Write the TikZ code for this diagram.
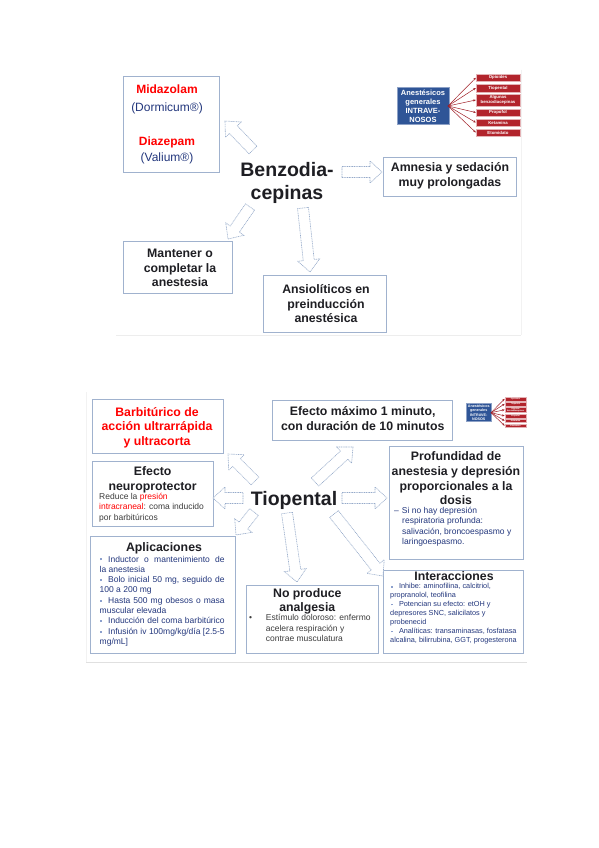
\documentclass[tikz,border=0pt]{standalone}
\usepackage{fontspec}
\setmainfont{Liberation Sans}
\usetikzlibrary{arrows.meta,calc}
\definecolor{boxc}{RGB}{160,178,206}
\definecolor{arrc}{RGB}{150,170,202}
\definecolor{navy}{RGB}{35,55,125}
\definecolor{titc}{RGB}{30,30,35}
\definecolor{redt}{RGB}{255,0,0}
\definecolor{bulc}{RGB}{140,160,205}
\definecolor{grayt}{RGB}{60,60,60}
\definecolor{bluebx}{RGB}{47,85,151}
\definecolor{redbx}{RGB}{178,36,44}
\definecolor{redln}{RGB}{160,30,38}
\newcommand{\bul}{\textcolor{bulc}{\rule[1.6pt]{2pt}{2pt}}}
\newcommand{\sbul}{\textcolor{bulc}{\rule[1.4pt]{1.8pt}{1.8pt}}}
\newcommand{\fs}[2]{\fontsize{#1}{#2}\selectfont}
\newcommand{\blockarrow}[2]{%
  \coordinate (bneck) at ($(#2)!12pt!(#1)$);
  \path[barrow] ($(#1)!5.5pt!90:(#2)$) -- ($(bneck)!5.5pt!90:(#2)$) -- ($(bneck)!11pt!90:(#2)$) -- (#2)
     -- ($(bneck)!11pt!-90:(#2)$) -- ($(bneck)!5.5pt!-90:(#2)$) -- ($(#1)!5.5pt!-90:(#2)$) -- cycle;}
\tikzset{
  ivgroup/.pic={
    \node[fill=bluebx, draw=bluebx!55!white, line width=0.3pt, minimum width=52pt, minimum height=37pt, inner sep=0pt] (-blue) at (26,31.5) {};
    \node[font=\fs{7.5}{9}\bfseries, text=white, align=center, inner sep=0pt] (-bluet) at (26,32) {Anestésicos\\generales\\INTRAVE-\\NOSOS};
    \coordinate (-src) at (51,32);
    \node[rbox, minimum height=7.5pt] (-r1) at (101,3.8) {Opioides};
    \node[rbox, minimum height=8pt] (-r2) at (101,14) {Tiopental};
    \node[rbox, minimum height=12pt] (-r3) at (101,26) {Algunas\\benzodiacepinas};
    \node[rbox, minimum height=7.5pt] (-r4) at (101,38.5) {Propofol};
    \node[rbox, minimum height=7.5pt] (-r5) at (101,48.5) {Ketamina};
    \node[rbox, minimum height=7.5pt] (-r6) at (101,58.5) {Etomidato};
    \foreach \k in {1,...,6} {\draw[redline] (-src) -- (-r\k.west);}
  },
  rbox/.style={fill=redbx, draw=redbx!35!white, line width=0.4pt, minimum width=44pt, inner sep=0pt, font=\fs{4.3}{4.8}\bfseries, text=white, align=center},
  redline/.style={draw=redln, line width=0.5pt, -{Stealth[length=2.6pt,width=2.2pt]}},
  box/.style={draw=boxc, line width=0.9pt, fill=white, inner sep=0pt},
  tit/.style={font=\fs{12.3}{14}\bfseries, text=titc, inner sep=0pt, anchor=base},
  big/.style={font=\fs{19.5}{22}\bfseries, text=titc, inner sep=0pt, anchor=base},
  body/.style={font=\fs{8.5}{10}, inner sep=0pt, anchor=base west},
  ibody/.style={font=\fs{7.3}{9}, text=navy, inner sep=0pt, anchor=base west},
  barrow/.style={draw=arrc, line width=0.6pt, dash pattern=on 1pt off 0.7pt, fill=white, line join=miter},
}
\begin{document}
\begin{tikzpicture}[x=1pt,y=-1pt]
\useasboundingbox (0,0) rectangle (599,848);
\fill[white] (0,0) rectangle (599,848);
% slide edges
\draw[black!7, line width=0.8pt] (116,335) -- (521,335);
\draw[black!5, line width=0.6pt] (521,70) -- (521,335);
\draw[black!12, line width=0.8pt] (86,662) -- (527,662);
\draw[black!5, line width=0.6pt] (86,392) -- (86,662);

% ---------- top slide ----------
\node[box, minimum width=96pt, minimum height=96pt] (midbox) at (171,124.7) {};
\node[box, minimum width=133pt, minimum height=39pt] (amnbox) at (449.5,176.5) {};
\node[box, minimum width=109pt, minimum height=52pt] (manbox) at (177.5,267) {};
\node[box, minimum width=123pt, minimum height=57pt] (ansbox) at (324.5,303.5) {};

\node[tit, font=\fs{12}{14}\bfseries, text=redt] (midz) at (167,93.3) {Midazolam};
\node[font=\fs{12}{14}, text=navy, inner sep=0pt, anchor=base] (dorm) at (167,111.7) {(Dormicum®)};
\node[tit, font=\fs{12}{14}\bfseries, text=redt] (diaz) at (167,146) {Diazepam};
\node[font=\fs{12}{14}, text=navy, inner sep=0pt, anchor=base] (vali) at (167,161) {(Valium®)};

\node[big] (benz1) at (287,176.7) {Benzodia-};
\node[big] (benz2) at (287,199) {cepinas};

\node[tit] (amn1) at (450,171) {Amnesia y sedación};
\node[tit] (amn2) at (450,186) {muy prolongadas};
\node[tit] (man1) at (180,257.3) {Mantener o};
\node[tit] (man2) at (180,272.3) {completar la};
\node[tit] (man3) at (180,286.7) {anestesia};
\node[tit] (ans1) at (326,293.3) {Ansiolíticos en};
\node[tit] (ans2) at (326,308.3) {preinducción};
\node[tit] (ans3) at (326,322.7) {anestésica};

\coordinate (ta1s) at (253,150); \coordinate (ta1e) at (225,121);
\coordinate (ta2s) at (342,172); \coordinate (ta2e) at (382,172);
\coordinate (ta3s) at (250,207); \coordinate (ta3e) at (228,239);
\coordinate (ta4s) at (303,208); \coordinate (ta4e) at (310,272);
\blockarrow{ta1s}{ta1e}
\blockarrow{ta2s}{ta2e}
\blockarrow{ta3s}{ta3e}
\blockarrow{ta4s}{ta4e}

\pic (ivA) at (397,74) {ivgroup};

% ---------- bottom slide ----------
\node[box, minimum width=131pt, minimum height=54pt] (barbox) at (157.5,426) {};
\node[box, minimum width=180pt, minimum height=40pt] (efmbox) at (362,420) {};
\node[box, minimum width=121pt, minimum height=65pt] (neubox) at (152.5,493.5) {};
\node[box, minimum width=145pt, minimum height=117pt] (aplbox) at (162.5,594.5) {};
\node[box, minimum width=134pt, minimum height=113pt] (profbox) at (456,502.5) {};
\node[box, minimum width=132pt, minimum height=68pt] (nopbox) at (312,619) {};
\node[box, minimum width=140pt, minimum height=83pt] (intbox) at (453,611.5) {};

\pic[scale=0.49, transform shape] (ivB) at (466,397) {ivgroup};

\node[tit, text=redt] (bar1) at (157,416) {Barbitúrico de};
\node[tit, text=redt] (bar2) at (157,430.7) {acción ultrarrápida};
\node[tit, text=redt] (bar3) at (157,445.3) {y ultracorta};

\node[tit] (efm1) at (362.7,415) {Efecto máximo 1 minuto,};
\node[tit] (efm2) at (362.7,430) {con duración de 10 minutos};

\node[tit] (neu1) at (152.7,475) {Efecto};
\node[tit] (neu2) at (152.7,490) {neuroprotector};
\node[body, text=grayt] (neu3) at (99,499.5) {Reduce la \textcolor{redt}{presión}};
\node[body, text=grayt] (neu4) at (99,509.8) {\textcolor{redt}{intracraneal}: coma inducido};
\node[body, text=grayt] (neu5) at (99,520.1) {por barbitúricos};

\node[tit] (apl0) at (164,551.7) {Aplicaciones};
\node[body, text=navy] (apl1) at (99.5,562) {\bul\hspace{6.5pt}\makebox[116.5pt][s]{Inductor o mantenimiento de}};
\node[body, text=navy] (apl2) at (99.5,572.3) {la anestesia};
\node[body, text=navy] (apl3) at (99.5,582.6) {\bul\hspace{6.5pt}\makebox[116.5pt][s]{Bolo inicial 50 mg, seguido de}};
\node[body, text=navy] (apl4) at (99.5,592.9) {100 a 200 mg};
\node[body, text=navy] (apl5) at (99.5,603.2) {\bul\hspace{6.5pt}\makebox[116.5pt][s]{Hasta 500 mg obesos o masa}};
\node[body, text=navy] (apl6) at (99.5,613.5) {muscular elevada};
\node[body, text=navy] (apl7) at (99.5,623.8) {\bul\hspace{6.5pt}\makebox[116.5pt][s]{Inducción del coma barbitúrico}};
\node[body, text=navy] (apl8) at (99.5,634.1) {\bul\hspace{6.5pt}\makebox[116.5pt][s]{Infusión iv 100mg/kg/día [2.5-5}};
\node[body, text=navy] (apl9) at (99.5,644.4) {mg/mL]};

\node[big] (tio) at (294,505) {Tiopental};

\node[tit] (pro1) at (456,460.7) {Profundidad de};
\node[tit] (pro2) at (456,475.4) {anestesia y depresión};
\node[tit] (pro3) at (456,490.1) {proporcionales a la};
\node[tit] (pro4) at (456,504.8) {dosis};
\node[body, text=navy] (pro5) at (394,513.5) {–\hspace{3pt}Si no hay depresión};
\node[body, text=navy] (pro6) at (402,523.9) {respiratoria profunda:};
\node[body, text=navy] (pro7) at (402,534.3) {salivación, broncoespasmo y};
\node[body, text=navy] (pro8) at (402,544.7) {laringoespasmo.};

\node[tit] (nop1) at (307.3,597.3) {No produce};
\node[tit] (nop2) at (307.3,611.7) {analgesia};
\node[body, text=grayt] (nop3) at (249,620.7) {•};
\node[body, text=grayt] (nop4) at (265.7,620.7) {Estímulo doloroso: enfermo};
\node[body, text=grayt] (nop5) at (265.7,631) {acelera respiración y};
\node[body, text=grayt] (nop6) at (265.7,641.4) {contrae musculatura};

\node[tit] (int0) at (454,580) {Interacciones};
\node[ibody] (int1) at (391,588.9) {\sbul\hspace{6pt}Inhibe: aminofilina, calcitriol,};
\node[ibody] (int2) at (390,597.9) {propranolol, teofilina};
\node[ibody] (int3) at (391,606.8) {\sbul\hspace{6pt}Potencian su efecto: etOH y};
\node[ibody] (int4) at (390,615.8) {depresores SNC, salicilatos y};
\node[ibody] (int5) at (390,624.8) {probenecid};
\node[ibody] (int6) at (391,633.8) {\sbul\hspace{6pt}Analíticas: transaminasas, fosfatasa};
\node[ibody] (int7) at (390,642.8) {alcalina, bilirrubina, GGT, progesterona};

\coordinate (ba1s) at (255,481); \coordinate (ba1e) at (228,454);
\coordinate (ba2s) at (243,498); \coordinate (ba2e) at (213,498);
\coordinate (ba3s) at (254,512); \coordinate (ba3e) at (236,535);
\coordinate (ba4s) at (315,482); \coordinate (ba4e) at (353,447);
\coordinate (ba5s) at (342,498); \coordinate (ba5e) at (387,498);
\coordinate (ba6s) at (287,513); \coordinate (ba6e) at (297,582);
\coordinate (ba7s) at (334,514); \coordinate (ba7e) at (383,576);
\blockarrow{ba1s}{ba1e}
\blockarrow{ba2s}{ba2e}
\blockarrow{ba3s}{ba3e}
\blockarrow{ba4s}{ba4e}
\blockarrow{ba5s}{ba5e}
\blockarrow{ba6s}{ba6e}
\blockarrow{ba7s}{ba7e}
\end{tikzpicture}
\end{document}
